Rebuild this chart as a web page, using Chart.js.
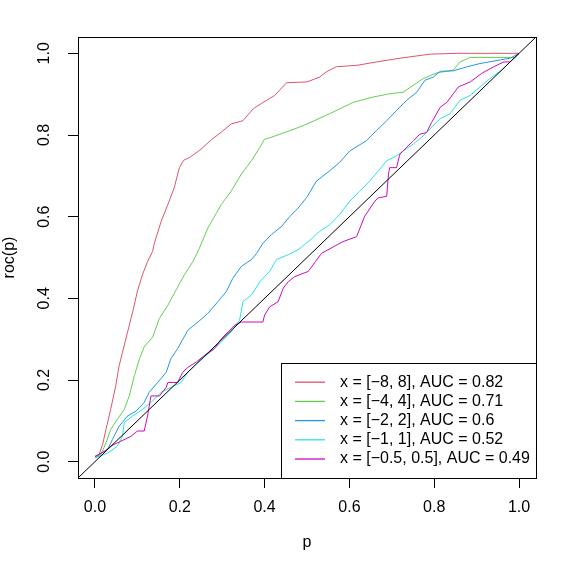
<!DOCTYPE html>
<html>
<head>
<meta charset="utf-8">
<script src="https://cdn.jsdelivr.net/npm/chart.js@4/dist/chart.umd.min.js"></script>
<style>
  html, body { margin: 0; padding: 0; background: #fff; }
  #wrap { width: 576px; height: 576px; }
</style>
</head>
<body>
<div id="wrap"><canvas id="roc" width="576" height="576"></canvas></div>
<script>
/* ---------- data ---------- */
const TICKS = [0, 0.2, 0.4, 0.6, 0.8, 1.0];
const LABELS = ['x = [\u22128, 8], AUC = 0.82', 'x = [\u22124, 4], AUC = 0.71', 'x = [\u22122, 2], AUC = 0.6',
                'x = [\u22121, 1], AUC = 0.52', 'x = [\u22120.5, 0.5], AUC = 0.49'];

const redP   = [0, 0.008, 0.018, 0.026, 0.037, 0.049, 0.057, 0.065, 0.077, 0.089, 0.1, 0.112, 0.124, 0.136, 0.14, 0.156, 0.172, 0.187, 0.199, 0.209, 0.223, 0.25, 0.274, 0.298, 0.321, 0.349, 0.373, 0.392, 0.424, 0.452, 0.5, 0.53, 0.546, 0.569, 0.62, 0.664, 0.719, 0.79, 0.853, 1.0];
const redRoc = [0.012, 0.013, 0.042, 0.079, 0.128, 0.186, 0.235, 0.268, 0.318, 0.367, 0.417, 0.458, 0.49, 0.515, 0.535, 0.588, 0.63, 0.671, 0.72, 0.738, 0.745, 0.765, 0.788, 0.807, 0.827, 0.835, 0.864, 0.877, 0.897, 0.928, 0.93, 0.942, 0.955, 0.967, 0.971, 0.979, 0.988, 0.998, 1.0, 1.0];

const greenP   = [0, 0.014, 0.026, 0.037, 0.053, 0.069, 0.081, 0.093, 0.105, 0.116, 0.136, 0.152, 0.172, 0.191, 0.211, 0.231, 0.245, 0.266, 0.282, 0.298, 0.321, 0.345, 0.369, 0.389, 0.4, 0.412, 0.436, 0.471, 0.5, 0.553, 0.609, 0.656, 0.695, 0.727, 0.751, 0.774, 0.806, 0.845, 0.861, 0.885, 0.99, 1.0];
const greenRoc = [0.012, 0.017, 0.046, 0.079, 0.104, 0.128, 0.161, 0.211, 0.252, 0.281, 0.305, 0.351, 0.383, 0.42, 0.458, 0.49, 0.52, 0.572, 0.601, 0.63, 0.662, 0.704, 0.737, 0.77, 0.79, 0.793, 0.802, 0.815, 0.827, 0.852, 0.88, 0.893, 0.901, 0.905, 0.922, 0.938, 0.952, 0.959, 0.979, 0.99, 0.99, 1.0];

const blueP   = [0, 0.03, 0.041, 0.057, 0.077, 0.097, 0.116, 0.128, 0.148, 0.168, 0.179, 0.195, 0.219, 0.243, 0.266, 0.29, 0.31, 0.325, 0.345, 0.369, 0.381, 0.396, 0.416, 0.44, 0.46, 0.479, 0.5, 0.522, 0.553, 0.577, 0.601, 0.64, 0.664, 0.688, 0.711, 0.735, 0.759, 0.778, 0.798, 0.814, 0.845, 0.877, 0.908, 0.956, 0.979, 1.0];
const blueRoc = [0.012, 0.03, 0.054, 0.087, 0.112, 0.124, 0.145, 0.17, 0.194, 0.219, 0.252, 0.277, 0.322, 0.342, 0.363, 0.392, 0.417, 0.449, 0.478, 0.495, 0.51, 0.535, 0.556, 0.576, 0.601, 0.621, 0.648, 0.687, 0.712, 0.733, 0.761, 0.786, 0.811, 0.835, 0.86, 0.885, 0.905, 0.934, 0.942, 0.956, 0.957, 0.967, 0.975, 0.984, 0.988, 1.0];

const cyanP   = [0, 0.03, 0.053, 0.065, 0.069, 0.089, 0.112, 0.132, 0.156, 0.179, 0.203, 0.219, 0.243, 0.262, 0.282, 0.298, 0.321, 0.341, 0.349, 0.369, 0.389, 0.412, 0.428, 0.456, 0.479, 0.503, 0.53, 0.553, 0.577, 0.601, 0.624, 0.648, 0.668, 0.688, 0.711, 0.727, 0.751, 0.77, 0.79, 0.814, 0.837, 0.861, 0.885, 0.908, 0.936, 0.96, 0.979, 1.0];
const cyanRoc = [0.009, 0.021, 0.038, 0.062, 0.096, 0.112, 0.128, 0.145, 0.17, 0.182, 0.194, 0.219, 0.244, 0.26, 0.277, 0.293, 0.318, 0.346, 0.392, 0.408, 0.441, 0.466, 0.495, 0.507, 0.519, 0.539, 0.564, 0.58, 0.605, 0.638, 0.662, 0.687, 0.712, 0.737, 0.749, 0.761, 0.778, 0.794, 0.815, 0.84, 0.852, 0.885, 0.897, 0.918, 0.942, 0.959, 0.979, 1.0];

const magP   = [0, 0.022, 0.037, 0.061, 0.085, 0.1, 0.116, 0.124, 0.132, 0.152, 0.168, 0.172, 0.195, 0.207, 0.219, 0.239, 0.258, 0.282, 0.298, 0.314, 0.329, 0.345, 0.396, 0.4, 0.412, 0.432, 0.444, 0.456, 0.471, 0.503, 0.52, 0.534, 0.585, 0.617, 0.636, 0.66, 0.668, 0.688, 0.692, 0.695, 0.711, 0.719, 0.735, 0.751, 0.766, 0.782, 0.794, 0.814, 0.83, 0.845, 0.857, 0.885, 0.912, 0.94, 0.964, 0.979, 1.0];
const magRoc = [0.013, 0.025, 0.038, 0.05, 0.062, 0.075, 0.075, 0.112, 0.161, 0.161, 0.182, 0.194, 0.194, 0.219, 0.231, 0.244, 0.26, 0.277, 0.301, 0.318, 0.334, 0.342, 0.342, 0.359, 0.379, 0.392, 0.425, 0.441, 0.453, 0.466, 0.49, 0.51, 0.539, 0.551, 0.601, 0.638, 0.646, 0.65, 0.704, 0.72, 0.72, 0.753, 0.77, 0.786, 0.802, 0.806, 0.831, 0.868, 0.88, 0.901, 0.918, 0.93, 0.951, 0.967, 0.979, 0.979, 1.0];

const diagP   = [-0.04, 1.04];
const diagRoc = [-0.04, 1.04];

/* ---------- styles ---------- */
const COLORS = ['#DF536B', '#61D04F', '#2297E6', '#28E2E5', '#CD0BBC'];
const FONT = 'Liberation Sans, Arial, Helvetica, sans-serif';

const pts = (xs, ys) => xs.map((x, i) => ({ x, y: ys[i] }));
const curves = [[redP, redRoc], [greenP, greenRoc], [blueP, blueRoc], [cyanP, cyanRoc], [magP, magRoc]];

const datasets = curves.map((c, i) => ({
  label: LABELS[i], data: pts(c[0], c[1]), borderColor: COLORS[i], borderWidth: 1,
  pointRadius: 0, fill: false, tension: 0, order: 6 - i
}));
datasets.push({ label: 'diag', data: pts(diagP, diagRoc), borderColor: '#000', borderWidth: 1, pointRadius: 0, order: 0 });

/* ---------- box, rotated y labels, legend ---------- */
const rBase = {
  id: 'rBase',
  afterDraw(chart) {
    const { ctx, chartArea: a, scales } = chart;
    ctx.save();
    ctx.strokeStyle = '#000'; ctx.lineWidth = 1;
    ctx.strokeRect(a.left + 0.5, a.top + 0.5, a.right - a.left, a.bottom - a.top);

    // y tick labels parallel to the axis
    ctx.fillStyle = '#000';
    ctx.font = '16px ' + FONT;
    ctx.textAlign = 'center'; ctx.textBaseline = 'alphabetic';
    TICKS.forEach(v => {
      const py = scales.y.getPixelForValue(v);
      ctx.save(); ctx.translate(48.5, py); ctx.rotate(-Math.PI / 2);
      ctx.fillText(v.toFixed(1), 0, 0);
      ctx.restore();
    });

    // legend, bottom right
    const w = 255, h = 115, lx = a.right - w, ly = a.bottom - h;
    ctx.fillStyle = '#fff';
    ctx.fillRect(lx, ly, w, h);
    ctx.strokeRect(lx + 0.5, ly + 0.5, w, h);
    ctx.textAlign = 'left'; ctx.textBaseline = 'middle';
    chart.data.datasets.slice(0, 5).forEach((d, i) => {
      const y = ly + 19.2 * (i + 1);
      ctx.strokeStyle = d.borderColor; ctx.lineWidth = 1.3;
      ctx.beginPath(); ctx.moveTo(lx + 14, y); ctx.lineTo(lx + 44, y); ctx.stroke();
      ctx.fillStyle = '#000';
      ctx.fillText(d.label, lx + 59, y);
    });
    ctx.restore();
  }
};

const fixTicks = s => { s.ticks = TICKS.map(v => ({ value: v })); };
const gridOpts = { drawOnChartArea: false, drawTicks: true, tickLength: 10, color: '#000', lineWidth: 1 };

new Chart(document.getElementById('roc'), {
  type: 'line',
  data: { datasets },
  options: {
    responsive: false, animation: false, devicePixelRatio: 1,
    layout: { padding: { top: 37, right: 40, left: 0, bottom: 0 } },
    plugins: { legend: { display: false }, tooltip: { enabled: false } },
    scales: {
      x: {
        type: 'linear', min: -0.04, max: 1.04,
        afterBuildTicks: fixTicks,
        afterFit: s => { s.height = 98; },
        grid: gridOpts, border: { display: false },
        ticks: { color: '#000', font: { family: FONT, size: 16 }, padding: 10.4, maxRotation: 0, autoSkip: false,
                 callback: v => v.toFixed(1) },
        title: { display: true, text: 'p', color: '#000', font: { family: FONT, size: 16 }, padding: { top: 0, bottom: 24 } }
      },
      y: {
        type: 'linear', min: -0.04, max: 1.04,
        afterBuildTicks: fixTicks,
        afterFit: s => { s.width = 78; },
        grid: gridOpts, border: { display: false },
        ticks: { display: false },
        title: { display: true, text: 'roc(p)', color: '#000', font: { family: FONT, size: 16 }, padding: { top: 0.4, bottom: 0 } }
      }
    }
  },
  plugins: [rBase]
});
</script>
</body>
</html>
